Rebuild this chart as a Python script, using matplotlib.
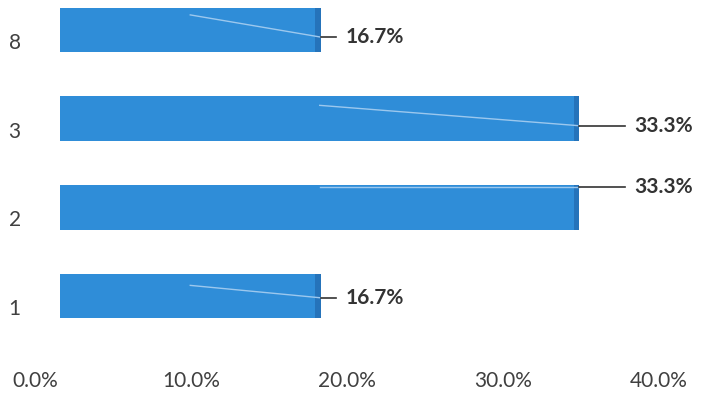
import matplotlib
matplotlib.use("Agg")
import matplotlib.pyplot as plt
from matplotlib.transforms import ScaledTranslation

categories = ["1", "2", "3", "8"]
values = [16.7, 33.3, 33.3, 16.7]
xticks = [0, 10, 20, 30, 40]
xtick_labels = ["0.0%", "10.0%", "20.0%", "30.0%", "40.0%"]

# label placement (data-unit offsets from the bar end / bar centre)
leader_len = [1.0, 2.9, 2.9, 1.0]
leader_dy = [-0.02, 0.23, -0.08, -0.08]
inner_dy = [0.12, 0.23, 0.15, 0.17]

plt.rcParams["font.family"] = ["Lato", "DejaVu Sans"]

fig = plt.figure(figsize=(7.10, 4.03), dpi=100)
ax = fig.add_axes([60 / 710, 63 / 403, 650 / 710, 340 / 403])

bar_color = "#2F8DD8"
ys = list(range(len(categories)))
ax.barh(ys, values, height=0.5, color=bar_color, edgecolor="none")
# darker side face to hint at the 3D look
ax.barh(ys, [0.35] * len(values), left=[v - 0.35 for v in values],
        height=0.5, color="#2573BA", edgecolor="none")

for y, v, ll, ldy, idy in zip(ys, values, leader_len, leader_dy, inner_dy):
    # faint line running inside the bar
    ax.plot([v * 0.5, v], [y + idy, y + ldy], color="#9CC8EE", lw=1.0, zorder=3)
    ax.plot([v, v + ll], [y + ldy, y + ldy], color="#333333", lw=1.2, zorder=3)
    ax.text(v + ll + 0.6, y + ldy, f"{v:.1f}%", va="center", ha="left",
            fontsize=15, fontweight="bold", color="#333333")

ax.set_xlim(0, 650 / 15.6)
ax.set_ylim(-0.496, 3.338)
ax.set_xticks(xticks)
ax.set_xticklabels(xtick_labels)
ax.set_yticks(ys)
ax.set_yticklabels(categories, ha="left")

ax.tick_params(axis="both", length=0, labelsize=15, labelcolor="#404040")
ax.tick_params(axis="x", pad=22)
ax.tick_params(axis="y", pad=37)

for lab in ax.get_xticklabels():
    lab.set_transform(lab.get_transform() + ScaledTranslation(-0.25, 0, fig.dpi_scale_trans))
for lab in ax.get_yticklabels():
    lab.set_transform(lab.get_transform() + ScaledTranslation(0, -0.11, fig.dpi_scale_trans))

for s in ax.spines.values():
    s.set_visible(False)

fig.savefig("out.png", dpi=100)
